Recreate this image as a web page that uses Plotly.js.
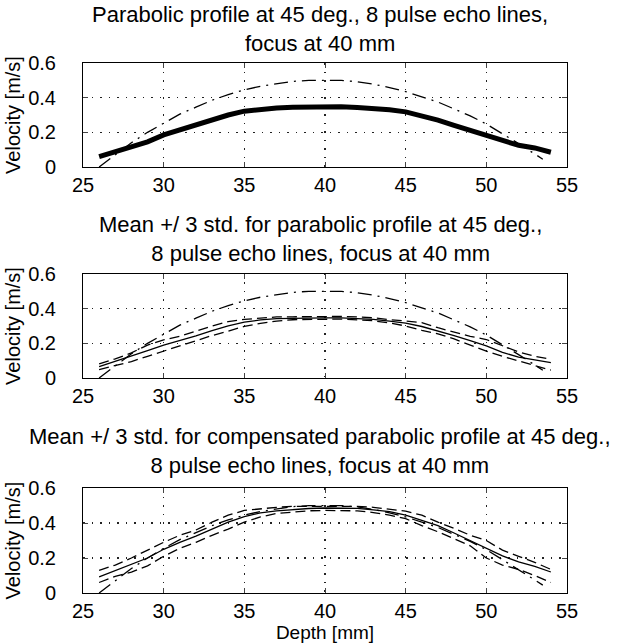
<!DOCTYPE html>
<html>
<head>
<meta charset="utf-8">
<script src="https://cdn.plot.ly/plotly-3.0.1.min.js"></script>
<style>html,body{margin:0;padding:0;background:#fff;}#chart{width:637px;height:643px;}</style>
</head>
<body>
<div id="chart"></div>
<script>
// Depth samples [mm]
const depth = [26,27,28,29,30,31,32,33,34,35,36,37,38,39,40,41,42,43,44,45,46,47,48,49,50,51,52,53,54];
// True parabolic profile (dash-dot)
const trueDepth = [26,27,28,29,30,31,32,33,34,35,36,37,38,39,40,41,42,43,44,45,46,47,48,49,50,51,52,53,53.5];
const trueVel = [0.0,0.07,0.14,0.2,0.255,0.305,0.345,0.385,0.418,0.445,0.466,0.482,0.494,0.5,0.502,0.5,0.492,0.478,0.458,0.435,0.405,0.375,0.335,0.295,0.248,0.192,0.135,0.075,0.045];
// Panel 1: estimated profiles (8 lines, overlapping)
const est1 = [0.06,0.09,0.115,0.145,0.185,0.215,0.245,0.275,0.30,0.322,0.333,0.34,0.344,0.346,0.348,0.348,0.343,0.338,0.33,0.318,0.295,0.27,0.24,0.21,0.185,0.15,0.125,0.11,0.085];
// Panel 2: mean and +/- 3 std
const mean2 = [0.065,0.095,0.125,0.158,0.19,0.215,0.243,0.273,0.30,0.322,0.335,0.342,0.345,0.346,0.347,0.347,0.344,0.338,0.328,0.316,0.297,0.272,0.245,0.215,0.185,0.148,0.12,0.104,0.088];
const upper2 = [0.082,0.11,0.145,0.19,0.22,0.24,0.27,0.3,0.325,0.338,0.345,0.352,0.353,0.354,0.354,0.355,0.352,0.347,0.337,0.33,0.32,0.29,0.265,0.24,0.222,0.185,0.15,0.125,0.108];
const lower2 = [0.048,0.07,0.095,0.125,0.155,0.185,0.215,0.245,0.27,0.298,0.315,0.328,0.336,0.338,0.34,0.34,0.335,0.33,0.318,0.3,0.275,0.255,0.225,0.19,0.155,0.125,0.098,0.075,0.045];
// Panel 3: compensated mean and +/- 3 std
const mean3 = [0.092,0.128,0.16,0.2,0.25,0.29,0.325,0.365,0.405,0.437,0.458,0.47,0.478,0.483,0.486,0.487,0.484,0.475,0.465,0.445,0.415,0.385,0.343,0.298,0.255,0.212,0.178,0.152,0.12];
const upper3 = [0.13,0.16,0.2,0.245,0.29,0.33,0.36,0.405,0.445,0.472,0.482,0.49,0.495,0.495,0.497,0.498,0.495,0.49,0.48,0.468,0.445,0.405,0.37,0.33,0.3,0.245,0.21,0.175,0.135];
const lower3 = [0.06,0.095,0.12,0.155,0.21,0.255,0.29,0.33,0.365,0.405,0.435,0.455,0.462,0.47,0.472,0.472,0.47,0.46,0.445,0.425,0.385,0.35,0.31,0.27,0.2,0.16,0.135,0.1,0.06];

const xTicks = [25,30,35,40,45,50,55];
const yTicks = [0,0.2,0.4,0.6];
const yTickText = ['0','0.2','0.4','0.6'];
const titles = [
  'Parabolic profile at 45 deg., 8 pulse echo lines,<br>focus at 40 mm',
  'Mean +/ 3 std. for parabolic profile at 45 deg.,<br>8 pulse echo lines, focus at 40 mm',
  'Mean +/ 3 std. for compensated parabolic profile at 45 deg.,<br>8 pulse echo lines, focus at 40 mm'
];

const FONT = 'Liberation Sans, Arial, Helvetica, sans-serif';
const dashDot = '14px,6px,2px,6px';
const dashed = '10px,5px';

function line(x, y, ax, w, dash) {
  return {x: x, y: y, xaxis: 'x' + ax, yaxis: 'y' + ax, type: 'scatter', mode: 'lines',
          line: {color: '#000', width: w, dash: dash || 'solid'}, hoverinfo: 'skip', showlegend: false};
}

const data = [
  line(trueDepth, trueVel, '', 1.3, dashDot),
  line(depth, est1, '', 5),
  line(trueDepth, trueVel, '2', 1.3, dashDot),
  line(depth, mean2, '2', 1.3),
  line(depth, upper2, '2', 1.3, dashed),
  line(depth, lower2, '2', 1.3, dashed),
  line(trueDepth, trueVel, '3', 1.3, dashDot),
  line(depth, mean3, '3', 1.3),
  line(depth, upper3, '3', 1.3, dashed),
  line(depth, lower3, '3', 1.3, dashed)
];
data[0].xaxis = 'x'; data[0].yaxis = 'y';
data[1].xaxis = 'x'; data[1].yaxis = 'y';

function xax(anchor, showTitle) {
  const a = {range: [25, 55], tickvals: xTicks, ticktext: xTicks.map(String), ticks: 'inside', ticklen: 5,
    showline: true, linecolor: '#000', linewidth: 1, mirror: 'ticks', showgrid: true, gridcolor: '#222',
    griddash: '1.5px,7px', gridwidth: 1.5, zeroline: false, anchor: anchor, domain: [0, 1],
    tickfont: {family: FONT, size: 20, color: '#000'}, ticklabelstandoff: 0, fixedrange: true};
  if (showTitle) a.title = {text: 'Depth [mm]', font: {family: FONT, size: 19, color: '#000'}, standoff: 0};
  return a;
}
function yax(anchor, dom) {
  return {range: [0, 0.6], tickvals: yTicks, ticktext: yTickText, ticks: 'inside', ticklen: 5,
    showline: true, linecolor: '#000', linewidth: 1, mirror: 'ticks', showgrid: true, gridcolor: '#222',
    griddash: '1.5px,7px', gridwidth: 1.5, zeroline: false, anchor: anchor, domain: dom,
    tickfont: {family: FONT, size: 20, color: '#000'}, ticklabelstandoff: 22,
    title: {text: 'Velocity [m/s]', font: {family: FONT, size: 20, color: '#000'}, standoff: 2}, fixedrange: true};
}

const layout = {
  width: 637, height: 643,
  margin: {l: 83, r: 70, t: 63, b: 50},
  paper_bgcolor: '#fff', plot_bgcolor: '#fff',
  showlegend: false,
  xaxis: xax('y', false),
  yaxis: yax('x', [0.8038, 1]),
  xaxis2: xax('y2', false),
  yaxis2: yax('x2', [0.4057, 0.6019]),
  xaxis3: xax('y3', true),
  yaxis3: yax('x3', [0, 0.198]),
  annotations: [
    {text: titles[0], x: 0.49, y: 1.065, xref: 'paper', yref: 'paper', showarrow: false, xanchor: 'center', yanchor: 'middle', font: {family: FONT, size: 22, color: '#000'}},
    {text: titles[1], x: 0.49, y: 0.667, xref: 'paper', yref: 'paper', showarrow: false, xanchor: 'center', yanchor: 'middle', font: {family: FONT, size: 22, color: '#000'}},
    {text: titles[2], x: 0.49, y: 0.267, xref: 'paper', yref: 'paper', showarrow: false, xanchor: 'center', yanchor: 'middle', font: {family: FONT, size: 22, color: '#000'}}
  ]
};

Plotly.newPlot('chart', data, layout, {staticPlot: true, displayModeBar: false});
</script>
</body>
</html>
